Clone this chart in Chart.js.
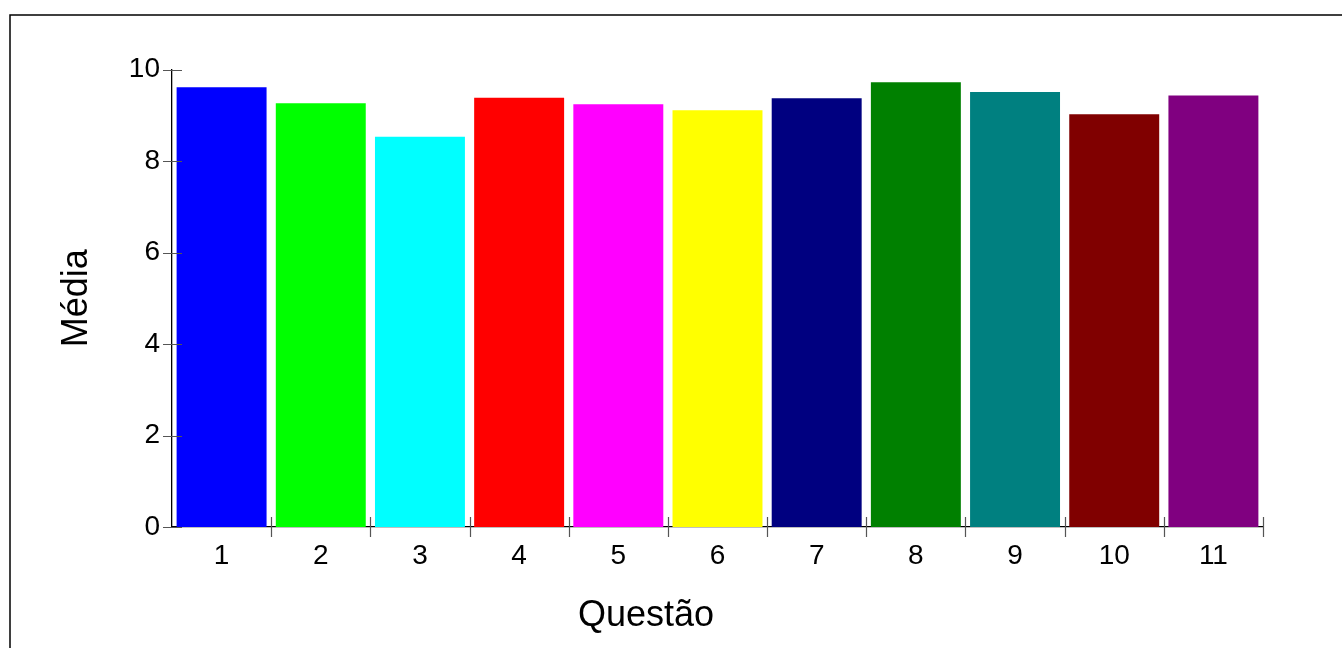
<!DOCTYPE html>
<html lang="pt">
<head>
    <meta charset="UTF-8">
    <title>Média por Questão</title>
    <style>
      body {
        margin: 0;
        padding: 0;
        background-color: #ffffff;
        overflow: hidden;
      }
      #chartCanvas {
        display: block;
      }
    </style>
    <script src="https://cdn.jsdelivr.net/npm/chart.js"></script>
</head>
<body>

    <canvas id="chartCanvas" width="1342" height="648"></canvas>

   <script>
    // dati
    const questoes = ['1', '2', '3', '4', '5', '6', '7', '8', '9', '10', '11'];
    const medias = [9.61, 9.26, 8.53, 9.38, 9.24, 9.11, 9.37, 9.72, 9.51, 9.02, 9.43];
    const cores = ['#0000ff', '#00ff00', '#00ffff', '#ff0000', '#ff00ff', '#ffff00',
                   '#000080', '#008000', '#008080', '#800000', '#800080'];
    const yTicks = [0, 2, 4, 6, 8, 10];

    const fonte = 'Liberation Sans, Arial, sans-serif';

    // cornice, tacche che attraversano gli assi, titolo asse x
    const extras = {
      id: 'extras',
      beforeDraw(chart) {
        const ctx = chart.ctx;
        ctx.save();
        ctx.strokeStyle = '#000';
        ctx.lineWidth = 1.5;
        ctx.strokeRect(10, 15, 2000, 2000);
        ctx.restore();
      },
      afterDraw(chart) {
        const ctx = chart.ctx;
        const x = chart.scales.x;
        const y = chart.scales.y;
        const area = chart.chartArea;
        ctx.save();
        ctx.strokeStyle = '#555';
        ctx.lineWidth = 1.2;
        ctx.beginPath();
        yTicks.forEach(v => {
          const py = Math.round(y.getPixelForValue(v)) + 0.5;
          ctx.moveTo(area.left - 9, py);
          ctx.lineTo(area.left + 10, py);
        });
        const passo = (area.right - area.left) / questoes.length;
        for (let i = 1; i <= questoes.length; i++) {
          const px = Math.round(area.left + i * passo) + 0.5;
          ctx.moveTo(px, area.bottom - 10);
          ctx.lineTo(px, area.bottom + 10);
        }
        ctx.stroke();

        ctx.fillStyle = '#000';
        ctx.font = '36px ' + fonte;
        ctx.textAlign = 'center';
        ctx.textBaseline = 'alphabetic';
        ctx.fillText('Questão', 646, 626);
        ctx.restore();
      }
    };

    const ctx = document.getElementById('chartCanvas').getContext('2d');

    new Chart(ctx, {
      type: 'bar',
      data: {
        labels: questoes,
        datasets: [{
          data: medias,
          backgroundColor: cores,
          borderWidth: 0,
          barPercentage: 0.907,
          categoryPercentage: 1.0
        }]
      },
      options: {
        responsive: false,
        animation: false,
        layout: {
          padding: { top: 69.5, right: 79, bottom: 0, left: 0 }
        },
        plugins: {
          legend: { display: false },
          tooltip: { enabled: false }
        },
        scales: {
          x: {
            grid: { display: false, drawTicks: false },
            border: { display: true, color: '#000', width: 1.3 },
            ticks: {
              color: '#000',
              padding: 12,
              font: { family: fonte, size: 28 }
            },
            afterFit: s => { s.height = 121; }
          },
          y: {
            min: 0,
            max: 10,
            grid: { display: false, drawTicks: false },
            border: { display: true, color: '#000', width: 1.3 },
            ticks: {
              stepSize: 2,
              color: '#000',
              padding: 12,
              font: { family: fonte, size: 28 }
            },
            title: {
              display: true,
              text: 'Média',
              color: '#000',
              padding: { top: 55, bottom: 0 },
              font: { family: fonte, size: 36 }
            },
            afterFit: s => { s.width = 172; }
          }
        }
      },
      plugins: [extras]
    });
  </script>

</body>
</html>
